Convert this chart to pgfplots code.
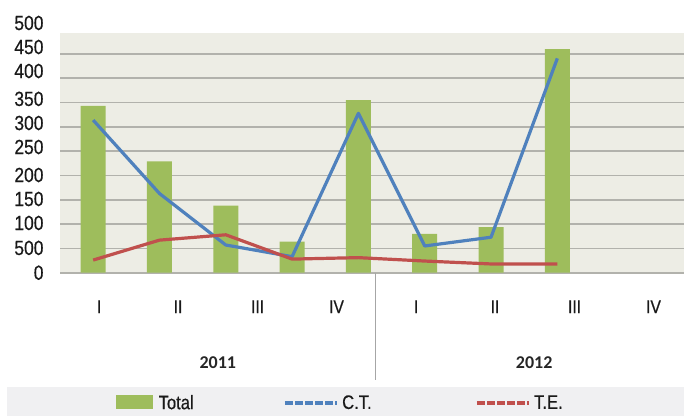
\documentclass[border=0pt]{standalone}
\usepackage{fontspec}
\setmainfont{Liberation Sans}
\newfontfamily\condf{Liberation Sans}[FakeStretch=0.85,FakeBold=0.5]
\newfontfamily\yearf{Carlito}
\usepackage{pgfplots}
\pgfplotsset{compat=1.18}
\definecolor{barg}{RGB}{158,189,92}
\definecolor{ctblue}{RGB}{79,129,189}
\definecolor{tered}{RGB}{192,80,77}
\definecolor{plotbg}{RGB}{237,237,229}
\definecolor{gridc}{RGB}{178,178,172}
\definecolor{legbg}{RGB}{240,240,242}
\begin{document}
\begin{tikzpicture}
\path[use as bounding box] (0pt,0pt) rectangle (684pt,416pt);
\fill[legbg] (7pt,0pt) rectangle (684pt,29pt);
\fill[plotbg] (60pt,143.3pt) rectangle (684pt,383pt);
\begin{axis}[
  at={(60pt,143.3pt)}, anchor=south west,
  scale only axis, width=624pt, height=250.3pt,
  xmin=-0.5, xmax=8.91, ymin=0, ymax=515,
  axis line style={draw=none}, clip=false,
  xtick={0.09,1.28,2.48,3.67,4.87,6.06,7.26,8.45},
  xticklabels={I,II,III,IV,I,II,III,IV},
  xticklabel style={font=\condf\fontsize{18.5}{18.5}\selectfont, anchor=center, yshift=-34pt, text=black!90},
  ytick={0,51,102.3,151.7,201,258.6,308,357.6,415,464.4,513.8},
  yticklabels={0,500,100,150,200,250,300,350,400,450,500},
  yticklabel style={font=\condf\fontsize{20.5}{20.5}\selectfont, anchor=east, xshift=-13pt, text=black!90},
  /pgf/number format/assume math mode=true,
  major tick length=0pt, tick style={draw=none},
  extra y ticks={0,50,100,150,200,250,300,350,400,450},
  extra y tick labels={},
  extra y tick style={ymajorgrids=true},
  major grid style={gridc, line width=1.6pt},
  legend columns=3,
  legend style={at={(0.0897,-0.52)}, anchor=west, draw=none, fill=none,
    inner sep=0pt, font=\condf\fontsize{19.5}{19.5}\selectfont,
    nodes={inner sep=3.5pt, text=black!90},
    /tikz/every even column/.append style={column sep=86pt}},
]
\addplot[ybar, bar width=25pt, fill=barg, draw=none,
  legend image code/.code={\fill[barg] (0pt,-6pt) rectangle (37pt,8pt);}]
  coordinates {(0,343) (1,229) (2,138) (3,64) (4,355) (5,80) (6,94) (7,460)};
\addlegendentry{\rule{2pt}{0pt}Total}
\addplot[ctblue, line width=3.2pt, line join=round,
  legend image code/.code={\draw[ctblue, line width=3.5pt, dash pattern=on 8pt off 2pt] (0pt,0pt) -- (52pt,0pt);}]
  coordinates {(0,314) (1,163) (2,57) (3,33) (4,328) (5,55) (6,73) (7,441)};
\addlegendentry{C.T.\rule{14pt}{0pt}}
\addplot[tered, line width=3.2pt, line join=round,
  legend image code/.code={\draw[tered, line width=3.5pt, dash pattern=on 8pt off 2pt] (0pt,0pt) -- (52pt,0pt);}]
  coordinates {(0,26) (1,67) (2,78) (3,28) (4,31) (5,24) (6,18) (7,18)};
\addlegendentry{T.E.}
\draw[gray!70, line width=1pt] (axis cs:4.26,0) -- ++(0pt,-107pt);
\node[font=\yearf\bfseries\fontsize{18}{18}\selectfont, text=black!85] at ([yshift=-90pt]axis cs:1.88,0) {2011};
\node[font=\yearf\bfseries\fontsize{18}{18}\selectfont, text=black!85] at ([yshift=-90pt]axis cs:6.65,0) {2012};
\end{axis}
\end{tikzpicture}
\end{document}
